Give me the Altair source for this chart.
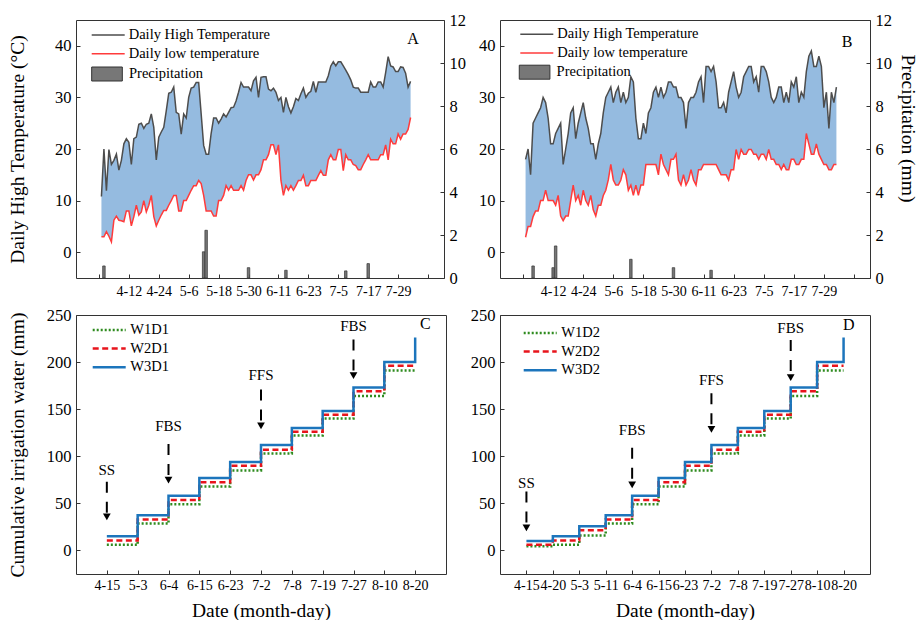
import datetime as dt
import altair as alt
import pandas as pd

FONT = "Liberation Serif, Times New Roman, serif"
YEAR = 2021

# ---------------- panels A and B: daily series from 4-1 to 8-3 ----------------
series_start = "4-1"
tick_dates = ["3-31", "4-12", "4-24", "5-6", "5-18", "5-30", "6-11",
              "6-23", "7-5", "7-17", "7-29", "8-10"]
tick_text = ["", "4-12", "4-24", "5-6", "5-18", "5-30", "6-11",
             "6-23", "7-5", "7-17", "7-29", ""]

high_A = [10.8, 20, 11.9, 19.9, 17, 17.8, 19, 15.9, 17.8, 21,
          22, 21.3, 17, 22, 22.3, 24.8, 25, 24, 24.8, 25,
          26.8, 24.2, 17.9, 22.3, 23.3, 24.2, 27.4, 30.8, 31, 32,
          27.1, 26.8, 22.9, 26.8, 26, 30, 31.8, 32, 32.9, 32.9,
          26.8, 20.7, 19, 19, 23, 26, 26, 25, 25.8, 26.8,
          26.2, 27.1, 28, 28.1, 29.3, 31, 32.9, 32, 32, 32,
          31.3, 33.2, 33.9, 30, 33.9, 34, 34, 31.6, 31.3, 31.8,
          31, 29.4, 30, 27.1, 30, 28.2, 27, 28.2, 29.8, 29.4,
          30.7, 31.8, 30, 30.8, 31.2, 33.1, 31, 33, 33, 33,
          33, 34.2, 36.1, 36.9, 36.1, 36.9, 36.9, 36.1, 35.3, 34.4,
          33.4, 32, 31.8, 31.8, 31, 31, 31, 31, 33, 32,
          32, 33, 33, 32, 34.8, 37.9, 36.1, 35.9, 35, 35,
          35.9, 35.8, 34.7, 32, 33.1]
low_A = [3, 3, 4, 3.1, 2, 6.2, 7, 6.2, 6.1, 5.9,
         8, 8, 5.1, 6.9, 9.1, 7.2, 7.8, 10, 7.8, 9.1,
         11, 6.9, 5.1, 6.2, 7.2, 8.1, 8.1, 9.1, 10, 11,
         11, 8, 8, 10, 10, 11, 12, 12.9, 12.9, 13.9,
         13.3, 11, 8, 8, 8, 7, 7, 10, 10, 11,
         12.9, 12, 12.9, 12, 12, 12, 12.9, 12, 13.9, 15,
         15, 14, 15, 15, 16, 17.9, 17.9, 18.9, 20.8, 20.8,
         18.9, 20.8, 13.9, 11, 12.9, 12, 12.9, 12, 12.9, 13.9,
         13.9, 14.9, 12.9, 12.9, 13.9, 13.9, 13.9, 14.9, 15.8, 14.9,
         14.9, 17.9, 18.9, 17.9, 17.9, 19.9, 19.9, 15.8, 18.9, 17.9,
         17.9, 17, 16.8, 16, 16, 17, 17.9, 18.9, 17.9, 17.9,
         17.9, 17.9, 18.9, 18.9, 20.8, 17.9, 21.9, 21, 21, 22.9,
         21.9, 22.9, 22.9, 23.8, 26.1]
high_B = [18, 20, 15, 25, 26, 27, 28, 30, 29, 26,
          21, 21, 23, 24, 25, 17, 20, 23, 27, 28,
          22, 25, 27, 29, 26, 24, 21, 21, 18, 21,
          23, 27, 30, 31, 32, 29, 31, 32, 29, 31,
          29, 30, 34, 33, 26, 22, 22, 25, 23, 27,
          28, 31, 32, 30, 32, 30, 31, 33, 33, 32,
          32, 30, 30, 29, 24, 29, 30, 30, 31, 33,
          34, 29, 36, 36, 35, 36, 33, 28, 28, 29,
          27, 31, 33, 35, 32, 30, 31, 34, 35, 36,
          36, 33, 34, 31, 36, 36, 35, 33, 30, 29,
          30, 32, 32, 29, 31, 29, 33, 32, 34, 29,
          31, 30, 35, 38, 39, 36, 36, 38, 36, 28,
          31, 24, 31, 29, 32]
low_B = [2.9, 5, 5, 6.9, 8, 8, 10, 10, 12, 10,
         10, 10, 9.1, 11, 7, 6.1, 7, 7, 10, 13,
         10, 11, 9.1, 12, 10, 9.1, 11, 8.2, 7, 9.1,
         9.1, 11, 12, 14, 17, 14, 13, 13, 14, 16,
         15, 12, 13, 11, 13, 11, 13, 13, 17, 17,
         17, 17, 17, 15, 19, 17, 16, 15, 18, 18,
         19, 14, 13, 15, 13, 14, 16, 14, 13, 16,
         16, 17, 17, 17, 17, 17, 17, 16, 15, 15,
         15, 14, 16, 16, 19.9, 18, 19.9, 19, 19, 19.9,
         19.9, 19, 19, 18, 19, 19, 18, 19.9, 18, 18,
         17, 17, 16, 17, 16, 16, 18, 18, 17, 17,
         18, 18, 23, 21, 19, 19, 21, 19, 18, 17,
         17, 16, 16, 17, 17]

precip_A_dates = ["4-2", "5-12", "5-13", "5-30", "6-14", "7-8", "7-17"]
precip_A = [0.56, 1.22, 2.22, 0.48, 0.36, 0.33, 0.67]
precip_B_dates = ["4-4", "4-12", "4-13", "5-13", "5-30", "6-14"]
precip_B = [0.56, 0.48, 1.49, 0.87, 0.48, 0.36]

HIGH_NAME = "Daily High Temperature"
LOW_NAME = "Daily low temperature"
PRECIP_NAME = "Precipitation"

# ---------------- panels C and D: cumulative irrigation ----------------
dates_C = ["4-15", "5-3", "6-4", "6-15", "6-23", "7-2", "7-8", "7-19", "7-27", "8-10", "8-20"]
W1D1 = [6, 28.5, 49, 68, 85, 103, 122, 140, 164, 191, 191]
W2D1 = [10.5, 33, 53.5, 72.5, 90, 107, 126, 144, 169, 196, 196]
W3D1 = [15, 37.5, 58, 77, 94, 112, 130, 148, 173, 200, 226]

dates_D = ["4-15", "4-20", "5-3", "5-11", "6-4", "6-15", "6-23", "7-2", "7-8", "7-19", "7-27", "8-10", "8-20"]
W1D2 = [4.5, 6, 16, 28.5, 49, 68, 85, 103, 122, 140, 164, 191, 191]
W2D2 = [6, 10.5, 21.5, 33, 53.5, 72.5, 90, 107, 126, 144, 169, 196, 196]
W3D2 = [10, 15, 25.7, 37.5, 58, 77, 94, 112, 130, 148, 173, 200, 226]

stages_C = ["SS", "FBS", "FFS", "FBS"]
stage_at_C = ["4-15", "6-4", "7-2", "7-27"]
stage_text_C = [85, 132, 186, 238]
stage_top_C = [73, 113, 171, 224]
stage_tip_C = [32, 71, 128.6, 182]

stages_D = ["SS", "FBS", "FFS", "FBS"]
stage_at_D = ["4-15", "6-4", "7-2", "7-27"]
stage_text_D = [72, 128, 181, 236]
stage_top_D = [62.5, 109, 167, 223.5]
stage_tip_D = [20.4, 66, 125, 180]

# ---------------- helpers ----------------
INWARD = {"expr": "-4"}
AREA_COLOR = "#95BBE0"
LINE_PATH = "M-4.125,0H4.125"
RECT_PATH = "M-3.83,-1.75H3.83V1.75H-3.83Z"


def md_to_day(md):
    m, d = (int(v) for v in md.split("-"))
    return (dt.date(YEAR, m, d) - dt.date(YEAR, 3, 31)).days


def label_expr(values, texts):
    expr = "''"
    for v, t in reversed(list(zip(values, texts))):
        expr = f"datum.value == {v} ? '{t}' : ({expr})"
    return expr


tick_days = [md_to_day(s) for s in tick_dates]
start_day = md_to_day(series_start)


def top_panel(high, low, p_dates, p_vals, letter, letter_day, letter_temp,
              width, left_title, right_title, line_leg_xy, rect_leg_xy):
    days = [start_day + i for i in range(len(high))]
    area_df = pd.DataFrame({"day": days, "high": high, "low": low})
    line_df = pd.DataFrame({
        "day": days + days,
        "value": high + low,
        "series": [HIGH_NAME] * len(high) + [LOW_NAME] * len(low),
    })
    bar_df = pd.DataFrame({"day": [md_to_day(s) for s in p_dates], "mm": p_vals,
                           "kind": [PRECIP_NAME] * len(p_vals)})
    letter_df = pd.DataFrame({"day": [letter_day], "value": [letter_temp], "text": [letter]})

    x_enc = alt.X("day:Q",
                  scale=alt.Scale(domain=[-9.2, 138.4], nice=False, zero=False, padding=0),
                  axis=alt.Axis(values=tick_days, labelExpr=label_expr(tick_days, tick_text),
                                title=None, tickSize=INWARD, labelPadding=10, labelFontSize=14,
                                labelFont=FONT, labelFlush=False, labelOverlap=False))
    t_scale = alt.Scale(domain=[-5, 45], nice=False, zero=False)
    t_axis_kw = dict(values=[0, 10, 20, 30, 40], tickSize=INWARD, labelPadding=9, labelFont=FONT)
    if left_title:
        t_axis = alt.Axis(title=left_title, titleX=-59, titleAngle=270, titleBaseline="middle", **t_axis_kw)
    else:
        t_axis = alt.Axis(title=None, **t_axis_kw)

    area = alt.Chart(area_df).mark_area(color=AREA_COLOR, opacity=1).encode(
        x=x_enc, y=alt.Y("high:Q", scale=t_scale, axis=t_axis), y2="low:Q")
    lines = alt.Chart(line_df).mark_line(strokeWidth=1.5).encode(
        x=x_enc,
        y=alt.Y("value:Q", scale=t_scale, axis=t_axis),
        stroke=alt.Stroke("series:N",
                          scale=alt.Scale(domain=[HIGH_NAME, LOW_NAME], range=["#4D4D4D", "#FF3B3B"]),
                          legend=alt.Legend(title=None, orient="none",
                                            legendX=line_leg_xy[0], legendY=line_leg_xy[1],
                                            symbolType=LINE_PATH, symbolSize=64, symbolStrokeWidth=1.5,
                                            labelOffset=13.25, rowPadding=3.8, padding=0,
                                            labelFont=FONT, labelFontSize=14.5, labelColor="black")))
    letter_mark = alt.Chart(letter_df).mark_text(font=FONT, fontSize=16, color="black").encode(
        x=x_enc, y=alt.Y("value:Q", scale=t_scale, axis=t_axis), text="text:N")
    temp_layer = alt.layer(area, lines, letter_mark)

    p_axis_kw = dict(values=[0, 2, 4, 6, 8, 10, 12], orient="right", tickSize=INWARD,
                     labelPadding=9, labelFont=FONT)
    if right_title:
        p_axis = alt.Axis(title=right_title, titleAngle=90, titleX=37, titleY=108,
                          titleBaseline="middle", titleFontSize=19.5, titleFont=FONT, **p_axis_kw)
    else:
        p_axis = alt.Axis(title=None, **p_axis_kw)
    bars = alt.Chart(bar_df).mark_bar(size=2.5, stroke="#333333", strokeWidth=0.7).encode(
        x=x_enc,
        y=alt.Y("mm:Q", scale=alt.Scale(domain=[0, 12], nice=False, zero=True), axis=p_axis),
        fill=alt.Fill("kind:N", scale=alt.Scale(domain=[PRECIP_NAME], range=["#777777"]),
                      legend=alt.Legend(title=None, orient="none",
                                        legendX=rect_leg_xy[0], legendY=rect_leg_xy[1],
                                        symbolType=RECT_PATH, symbolSize=64,
                                        symbolStrokeColor="#333333", symbolStrokeWidth=1,
                                        symbolOpacity=1, labelOffset=14.75, padding=0,
                                        labelFont=FONT, labelFontSize=14.5, labelColor="black")))
    return alt.layer(temp_layer, bars).resolve_scale(y="independent").properties(width=width, height=258)


def bottom_panel(cats, w1, w2, w3, names, stages, stage_at, s_text, s_top, s_tip,
                 letter, letter_x, letter_y, width, left_title, leg_xy):
    n = len(cats)
    idx = list(range(n))
    line_df = pd.DataFrame({"i": idx * 3, "mm": w1 + w2 + w3,
                            "series": [names[0]] * n + [names[1]] * n + [names[2]] * n})
    ann_df = pd.DataFrame({"i": [cats.index(s) for s in stage_at], "label": stages,
                           "ty": s_text, "top": s_top, "tip": s_tip})
    ann_df["head"] = ann_df["tip"] + 3.6
    letter_df = pd.DataFrame({"i": [letter_x], "mm": [letter_y], "text": [letter]})

    x_enc = alt.X("i:Q", scale=alt.Scale(domain=[-1, n], nice=False, zero=False, padding=0),
                  axis=alt.Axis(values=idx, labelExpr=label_expr(idx, cats),
                                title="Date (month-day)", titleY=36, titleBaseline="middle",
                                tickSize=INWARD, labelPadding=8, labelFontSize=14, labelFont=FONT,
                                labelFlush=False, labelOverlap=False))
    y_scale = alt.Scale(domain=[-25, 250], nice=False, zero=False)
    y_kw = dict(values=[0, 50, 100, 150, 200, 250], tickSize=INWARD, labelPadding=9, labelFont=FONT)
    if left_title:
        y_axis = alt.Axis(title=left_title, titleX=-59, titleAngle=270, titleBaseline="middle", **y_kw)
    else:
        y_axis = alt.Axis(title=None, **y_kw)

    leg = alt.Legend(title=None, orient="none", legendX=leg_xy[0], legendY=leg_xy[1],
                     symbolType=LINE_PATH, symbolSize=64, symbolStrokeWidth=2.5,
                     labelOffset=13.9, rowPadding=3.6, padding=0,
                     labelFont=FONT, labelFontSize=14.5, labelColor="black")
    lines = alt.Chart(line_df).mark_line(interpolate="step-after", strokeWidth=2.5).encode(
        x=x_enc,
        y=alt.Y("mm:Q", scale=y_scale, axis=y_axis),
        stroke=alt.Stroke("series:N", scale=alt.Scale(domain=names, range=["#2E8B1E", "#E8141C", "#1C75BC"]),
                          legend=leg),
        strokeDash=alt.StrokeDash("series:N", scale=alt.Scale(domain=names, range=[[2, 2], [6, 3.5], [1, 0]]),
                                  legend=leg),
    )
    rule = alt.Chart(ann_df).mark_rule(strokeDash=[11, 9], strokeWidth=2, color="black").encode(
        x=x_enc, y=alt.Y("top:Q", scale=y_scale, axis=y_axis), y2="head:Q")
    head = alt.Chart(ann_df).mark_point(shape="triangle-down", filled=True, size=60,
                                        color="black", opacity=1).encode(
        x=x_enc, y=alt.Y("head:Q", scale=y_scale, axis=y_axis))
    text = alt.Chart(ann_df).mark_text(font=FONT, fontSize=15, baseline="middle", color="black").encode(
        x=x_enc, y=alt.Y("ty:Q", scale=y_scale, axis=y_axis), text="label:N")
    letter_mark = alt.Chart(letter_df).mark_text(font=FONT, fontSize=16, baseline="middle", color="black").encode(
        x=x_enc, y=alt.Y("mm:Q", scale=y_scale, axis=y_axis), text="text:N")
    return alt.layer(lines, rule, head, text, letter_mark).properties(width=width, height=259)


panel_A = top_panel(high_A, low_A, precip_A_dates, precip_A, "A", 126, 41.4, 368,
                    "Daily High Temperature (°C)", None, (24.95, 7.75), (23.75, 46.75))
panel_B = top_panel(high_B, low_B, precip_B_dates, precip_B, "B", 129.3, 40.8, 370,
                    None, "Precipitation (mm)", (29.55, 7.05), (27.35, 44.95))
panel_C = bottom_panel(dates_C, W1D1, W2D1, W3D1, ["W1D1", "W2D1", "W3D1"],
                       stages_C, stage_at_C, stage_text_C, stage_top_C, stage_tip_C,
                       "C", 10.33, 240, 370, "Cumulative irrigation water (mm)", (25.95, 7.75))
panel_D = bottom_panel(dates_D, W1D2, W2D2, W3D2, ["W1D2", "W2D2", "W3D2"],
                       stages_D, stage_at_D, stage_text_D, stage_top_D, stage_tip_D,
                       "D", 12.2, 239, 370, None, (32.95, 10.75))

RES = dict(stroke="independent", strokeDash="independent", fill="independent")

left_col = alt.vconcat(panel_A, panel_C, spacing=7).resolve_scale(**RES).resolve_legend(**RES)
right_col = alt.vconcat(panel_B, panel_D, spacing=7).resolve_scale(**RES).resolve_legend(**RES)

chart = (
    alt.hconcat(left_col, right_col, spacing=3)
    .resolve_scale(**RES)
    .resolve_legend(**RES)
    .properties(padding={"left": 6, "top": 11, "right": 2, "bottom": 0}, background="white")
    .configure_view(stroke="#333333", strokeWidth=1)
    .configure_axis(labelFont=FONT, titleFont=FONT, labelFontSize=16.5, titleFontSize=19.5,
                    titleFontWeight="normal", labelColor="black", titleColor="black",
                    tickColor="#333333", tickWidth=1, domain=False, grid=False)
)

chart.save("out.html", embed_options={"renderer": "svg", "actions": False})
